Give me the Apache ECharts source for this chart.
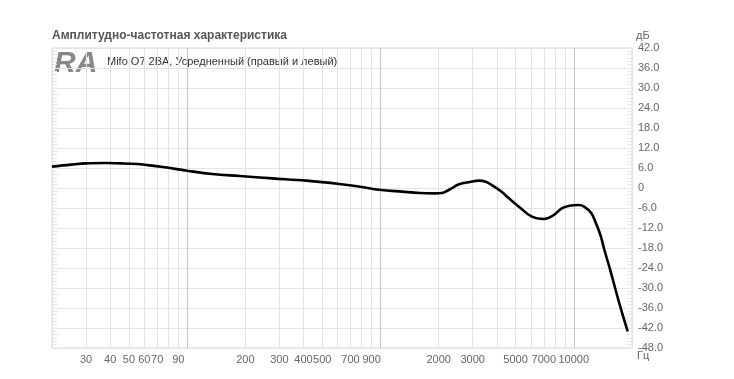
<!DOCTYPE html>
<html><head><meta charset="utf-8">
<script src="https://cdn.jsdelivr.net/npm/echarts@6/dist/echarts.min.js"></script>
<style>html,body{margin:0;padding:0;background:#fff}#c{width:734px;height:379px}</style>
</head><body><div id="c"></div>
<script>
var titleText = 'Амплитудно-частотная характеристика';
var seriesName = 'Mifo O7 2BA, Усредненный (правый и левый)';
var freqs = [20, 25, 30, 38, 45, 55, 62, 75, 100, 135, 187, 276, 414, 613, 800, 985, 1300, 1600, 1900, 2080, 2300, 2550, 2900, 3230, 3500, 3760, 4200, 4620, 5200, 6070, 7000, 7880, 8670, 9500, 10600, 11300, 12300, 13000, 13800, 14300, 15500, 17000, 18100, 19000];
var dB =    [6.4, 7.0, 7.4, 7.5, 7.4, 7.2, 6.9, 6.3, 5.2, 4.2, 3.6, 2.9, 2.2, 1.2, 0.3, -0.5, -1.1, -1.5, -1.6, -1.5, -0.3, 1.1, 1.8, 2.2, 1.9, 0.9, -1.0, -3.1, -5.6, -8.6, -9.3, -8.1, -6.1, -5.3, -5.1, -5.6, -7.5, -10.5, -14.5, -18.0, -25.0, -33.6, -39.0, -43.0];
var gridFreqs = [20,30,40,50,60,70,80,90,100,200,300,400,500,600,700,800,900,1000,2000,3000,4000,5000,6000,7000,8000,9000,10000,20000];
var majorFreqs = [100, 1000, 10000];
var xLabels = [30,40,50,60,70,90,200,300,400,500,700,900,2000,3000,5000,7000,10000];
var yMin = -48, yMax = 42, yStep = 6;

var chart = echarts.init(document.getElementById('c'), null, {renderer: 'canvas'});
var gridLines = gridFreqs.map(function (f) {
  var major = majorFreqs.indexOf(f) >= 0;
  return {
    xAxis: f,
    lineStyle: {color: major ? '#c8c8c8' : '#e3e3e3', width: 1, type: 'solid'},
    label: {show: xLabels.indexOf(f) >= 0, formatter: String(f)}
  };
});
chart.setOption({
  animation: false,
  textStyle: {fontFamily: 'Liberation Sans, Arial, sans-serif'},
  grid: {left: 52, right: 102, top: 48, bottom: 31, show: true, borderColor: '#d8d8d8', borderWidth: 1},
  xAxis: {
    type: 'log', logBase: 10, min: 20, max: 20000,
    axisLine: {show: false}, axisTick: {show: false}, axisLabel: {show: false}, splitLine: {show: false}
  },
  yAxis: [{
    type: 'value', position: 'right', min: yMin, max: yMax, interval: yStep,
    axisLine: {show: false},
    axisTick: {show: true, inside: true, length: 6, lineStyle: {color: '#e6e6e6'}},
    minorTick: {show: true, splitNumber: 6, length: 5, lineStyle: {color: '#e6e6e6'}},
    axisLabel: {color: '#666', fontSize: 11, margin: 6, align: 'left',
      formatter: function (v) { return v === 0 ? '0' : v.toFixed(1); }},
    splitLine: {show: true, lineStyle: {color: '#e3e3e3'}}
  }, {
    type: 'value', position: 'left', min: yMin, max: yMax, interval: yStep,
    axisLine: {show: false}, axisLabel: {show: false}, splitLine: {show: false},
    axisTick: {show: true, inside: true, length: 6, lineStyle: {color: '#e6e6e6'}},
    minorTick: {show: true, splitNumber: 6, length: 5, lineStyle: {color: '#e6e6e6'}}
  }],
  series: [{
    name: seriesName, type: 'line', smooth: 0.4, showSymbol: false,
    data: freqs.map(function (f, i) { return [f, dB[i]]; }),
    lineStyle: {color: '#000', width: 2.6},
    z: 5,
    markLine: {
      silent: true, symbol: ['none', 'none'], animation: false,
      label: {position: 'start', color: '#666', fontSize: 11, distance: 6},
      data: gridLines, z: 1
    }
  }],
  graphic: [
    {type: 'text', left: 52, top: 30, style: {text: titleText, fill: '#555', font: 'bold 12px Liberation Sans, Arial, sans-serif'}},
    {type: 'text', left: 636, top: 30, style: {text: 'дБ', fill: '#666', font: '11px Liberation Sans, Arial, sans-serif'}},
    {type: 'text', left: 637, top: 350, style: {text: 'Гц', fill: '#666', font: '11px Liberation Sans, Arial, sans-serif'}},
    {type: 'text', left: 54, top: 49, style: {text: 'RA', fill: '#888', font: 'italic bold 30px Liberation Sans, Arial, sans-serif'}},
    {type: 'text', left: 107, top: 56, style: {text: seriesName, fill: '#333', font: '11px Liberation Sans, Arial, sans-serif'}}
  ]
});
</script></body></html>
